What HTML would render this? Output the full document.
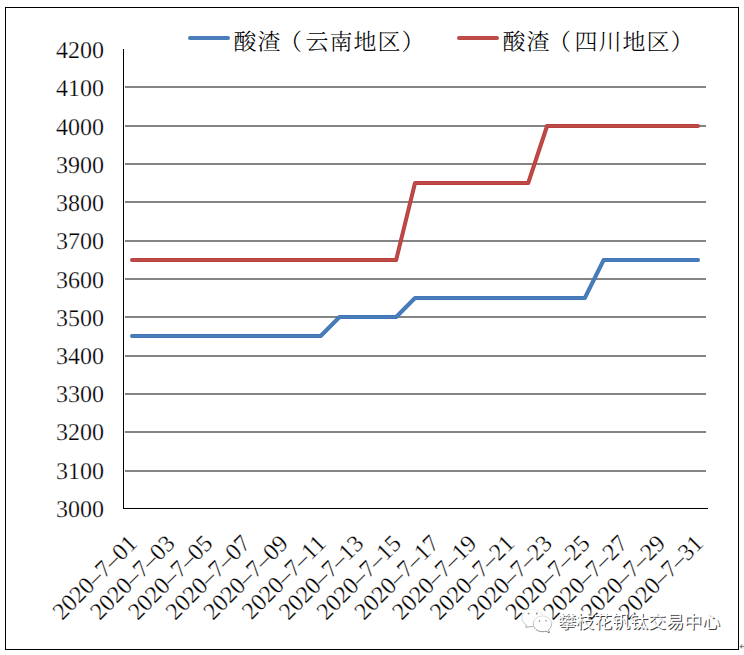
<!DOCTYPE html>
<html><head><meta charset="utf-8"><style>
html,body{margin:0;padding:0;background:#fff;width:744px;height:655px;overflow:hidden}
svg{display:block}
</style></head><body>
<svg width="744" height="655" viewBox="0 0 744 655" style="text-rendering:geometricPrecision">
<rect x="5.5" y="7.5" width="733" height="642" fill="#fff" stroke="#000" stroke-width="1"/>
<g fill="#848484"><rect x="125" y="86" width="581" height="2"/><rect x="125" y="125" width="581" height="2"/><rect x="125" y="163" width="581" height="2"/><rect x="125" y="201" width="581" height="2"/><rect x="125" y="240" width="581" height="2"/><rect x="125" y="278" width="581" height="2"/><rect x="125" y="316" width="581" height="2"/><rect x="125" y="355" width="581" height="2"/><rect x="125" y="393" width="581" height="2"/><rect x="125" y="431" width="581" height="2"/><rect x="125" y="470" width="581" height="2"/></g>
<rect x="123" y="49" width="1" height="460" fill="#000"/><rect x="123" y="508" width="585" height="1" fill="#000"/>
<g fill="none" stroke-linejoin="round" stroke-linecap="round">
<polyline points="132.00,336 150.87,336 169.73,336 188.60,336 207.47,336 226.34,336 245.20,336 264.07,336 282.94,336 301.80,336 320.67,336 339.54,317 358.40,317 377.27,317 396.14,317 415.00,298 433.87,298 452.74,298 471.61,298 490.47,298 509.34,298 528.21,298 547.07,298 565.94,298 584.81,298 603.67,260 622.54,260 641.41,260 660.28,260 679.14,260 698.01,260" stroke="#4176b8" stroke-width="4"/>
<polyline points="132.00,336 150.87,336 169.73,336 188.60,336 207.47,336 226.34,336 245.20,336 264.07,336 282.94,336 301.80,336 320.67,336 339.54,317 358.40,317 377.27,317 396.14,317 415.00,298 433.87,298 452.74,298 471.61,298 490.47,298 509.34,298 528.21,298 547.07,298 565.94,298 584.81,298 603.67,260 622.54,260 641.41,260 660.28,260 679.14,260 698.01,260" stroke="#4a7ebb" stroke-width="2"/>
<polyline points="132.00,260 150.87,260 169.73,260 188.60,260 207.47,260 226.34,260 245.20,260 264.07,260 282.94,260 301.80,260 320.67,260 339.54,260 358.40,260 377.27,260 396.14,260 415.00,183 433.87,183 452.74,183 471.61,183 490.47,183 509.34,183 528.21,183 547.07,126 565.94,126 584.81,126 603.67,126 622.54,126 641.41,126 660.28,126 679.14,126 698.01,126" stroke="#b8413e" stroke-width="4"/>
<polyline points="132.00,260 150.87,260 169.73,260 188.60,260 207.47,260 226.34,260 245.20,260 264.07,260 282.94,260 301.80,260 320.67,260 339.54,260 358.40,260 377.27,260 396.14,260 415.00,183 433.87,183 452.74,183 471.61,183 490.47,183 509.34,183 528.21,183 547.07,126 565.94,126 584.81,126 603.67,126 622.54,126 641.41,126 660.28,126 679.14,126 698.01,126" stroke="#be4b48" stroke-width="2"/>
</g>
<g font-family="'Liberation Serif', serif" font-size="24" fill="#000" stroke="#fff" stroke-width="0.25" text-anchor="end"><text x="104" y="58.1">4200</text><text x="104" y="96.3">4100</text><text x="104" y="134.6">4000</text><text x="104" y="172.8">3900</text><text x="104" y="211.0">3800</text><text x="104" y="249.3">3700</text><text x="104" y="287.5">3600</text><text x="104" y="325.7">3500</text><text x="104" y="364.0">3400</text><text x="104" y="402.2">3300</text><text x="104" y="440.4">3200</text><text x="104" y="478.7">3100</text><text x="104" y="516.9">3000</text></g>
<g font-family="'Liberation Serif', serif" font-size="24" fill="#000" stroke="#fff" stroke-width="0.25" text-anchor="end"><text transform="translate(138.5,544.7) rotate(-45)">2020–7–01</text><text transform="translate(176.2,544.7) rotate(-45)">2020–7–03</text><text transform="translate(214.0,544.7) rotate(-45)">2020–7–05</text><text transform="translate(251.7,544.7) rotate(-45)">2020–7–07</text><text transform="translate(289.4,544.7) rotate(-45)">2020–7–09</text><text transform="translate(327.2,544.7) rotate(-45)">2020–7–11</text><text transform="translate(364.9,544.7) rotate(-45)">2020–7–13</text><text transform="translate(402.6,544.7) rotate(-45)">2020–7–15</text><text transform="translate(440.4,544.7) rotate(-45)">2020–7–17</text><text transform="translate(478.1,544.7) rotate(-45)">2020–7–19</text><text transform="translate(515.8,544.7) rotate(-45)">2020–7–21</text><text transform="translate(553.6,544.7) rotate(-45)">2020–7–23</text><text transform="translate(591.3,544.7) rotate(-45)">2020–7–25</text><text transform="translate(629.0,544.7) rotate(-45)">2020–7–27</text><text transform="translate(666.8,544.7) rotate(-45)">2020–7–29</text><text transform="translate(704.5,544.7) rotate(-45)">2020–7–31</text></g>
<line x1="190" y1="38" x2="228" y2="38" stroke="#4a7ebb" stroke-width="4" stroke-linecap="round"/>
<line x1="459" y1="38" x2="497" y2="38" stroke="#be4b48" stroke-width="4" stroke-linecap="round"/>
<g font-family="'Liberation Serif', 'Noto Serif CJK SC', serif" font-size="23" font-weight="300" fill="#000">
<text x="233.5" y="50" letter-spacing="1">酸渣<tspan dx="-2.5">（</tspan><tspan dx="2.5">云南地区）</tspan></text>
<text x="502.5" y="50" letter-spacing="1">酸渣<tspan dx="-2.5">（</tspan><tspan dx="2.5">四川地区）</tspan></text>
</g>
<g font-family="'Liberation Sans', 'Noto Sans CJK SC', sans-serif" font-size="18">
<text x="559" y="629" fill="#404040">攀枝花钒钛交易中心</text>
<text x="558" y="628" fill="#fff">攀枝花钒钛交易中心</text>
</g>
<defs><linearGradient id="icg" gradientUnits="userSpaceOnUse" x1="0" y1="609" x2="0" y2="633"><stop offset="0" stop-color="#eee"/><stop offset="0.5" stop-color="#ccc"/><stop offset="1" stop-color="#777"/></linearGradient></defs>
<g fill="#fff" stroke="url(#icg)" stroke-width="0.9">
<path d="M533 626.5 L527.5 627 L526 627.8 L526.3 625 C523.5 623 521.8 620.5 521.8 617.8 C521.8 612.8 526.6 609 532.3 609 C537.5 609 541.8 612 542.6 616.2"/>
<path d="M542.5 616 C547.6 616 551.6 619.4 551.6 623.8 C551.6 626.3 550.4 628.4 548.6 629.8 L549.4 633 L546 631.2 C545 631.5 543.8 631.7 542.5 631.7 C537.4 631.7 533.3 628.3 533.3 623.8 C533.3 619.4 537.4 616 542.5 616 Z"/>
</g>
<g fill="#888"><circle cx="528.6" cy="613.6" r="0.9"/><circle cx="536.8" cy="613.5" r="0.9"/><circle cx="539.5" cy="621.1" r="0.8"/><circle cx="546" cy="620.8" r="0.8"/></g>
<path d="M741 646.5 H744" stroke="#888" stroke-width="1.2" fill="none"/><path d="M739.3 646.5 L742.6 643.8 L741.8 646.5 L742.6 649.2 Z" fill="#888"/>
</svg>
</body></html>
